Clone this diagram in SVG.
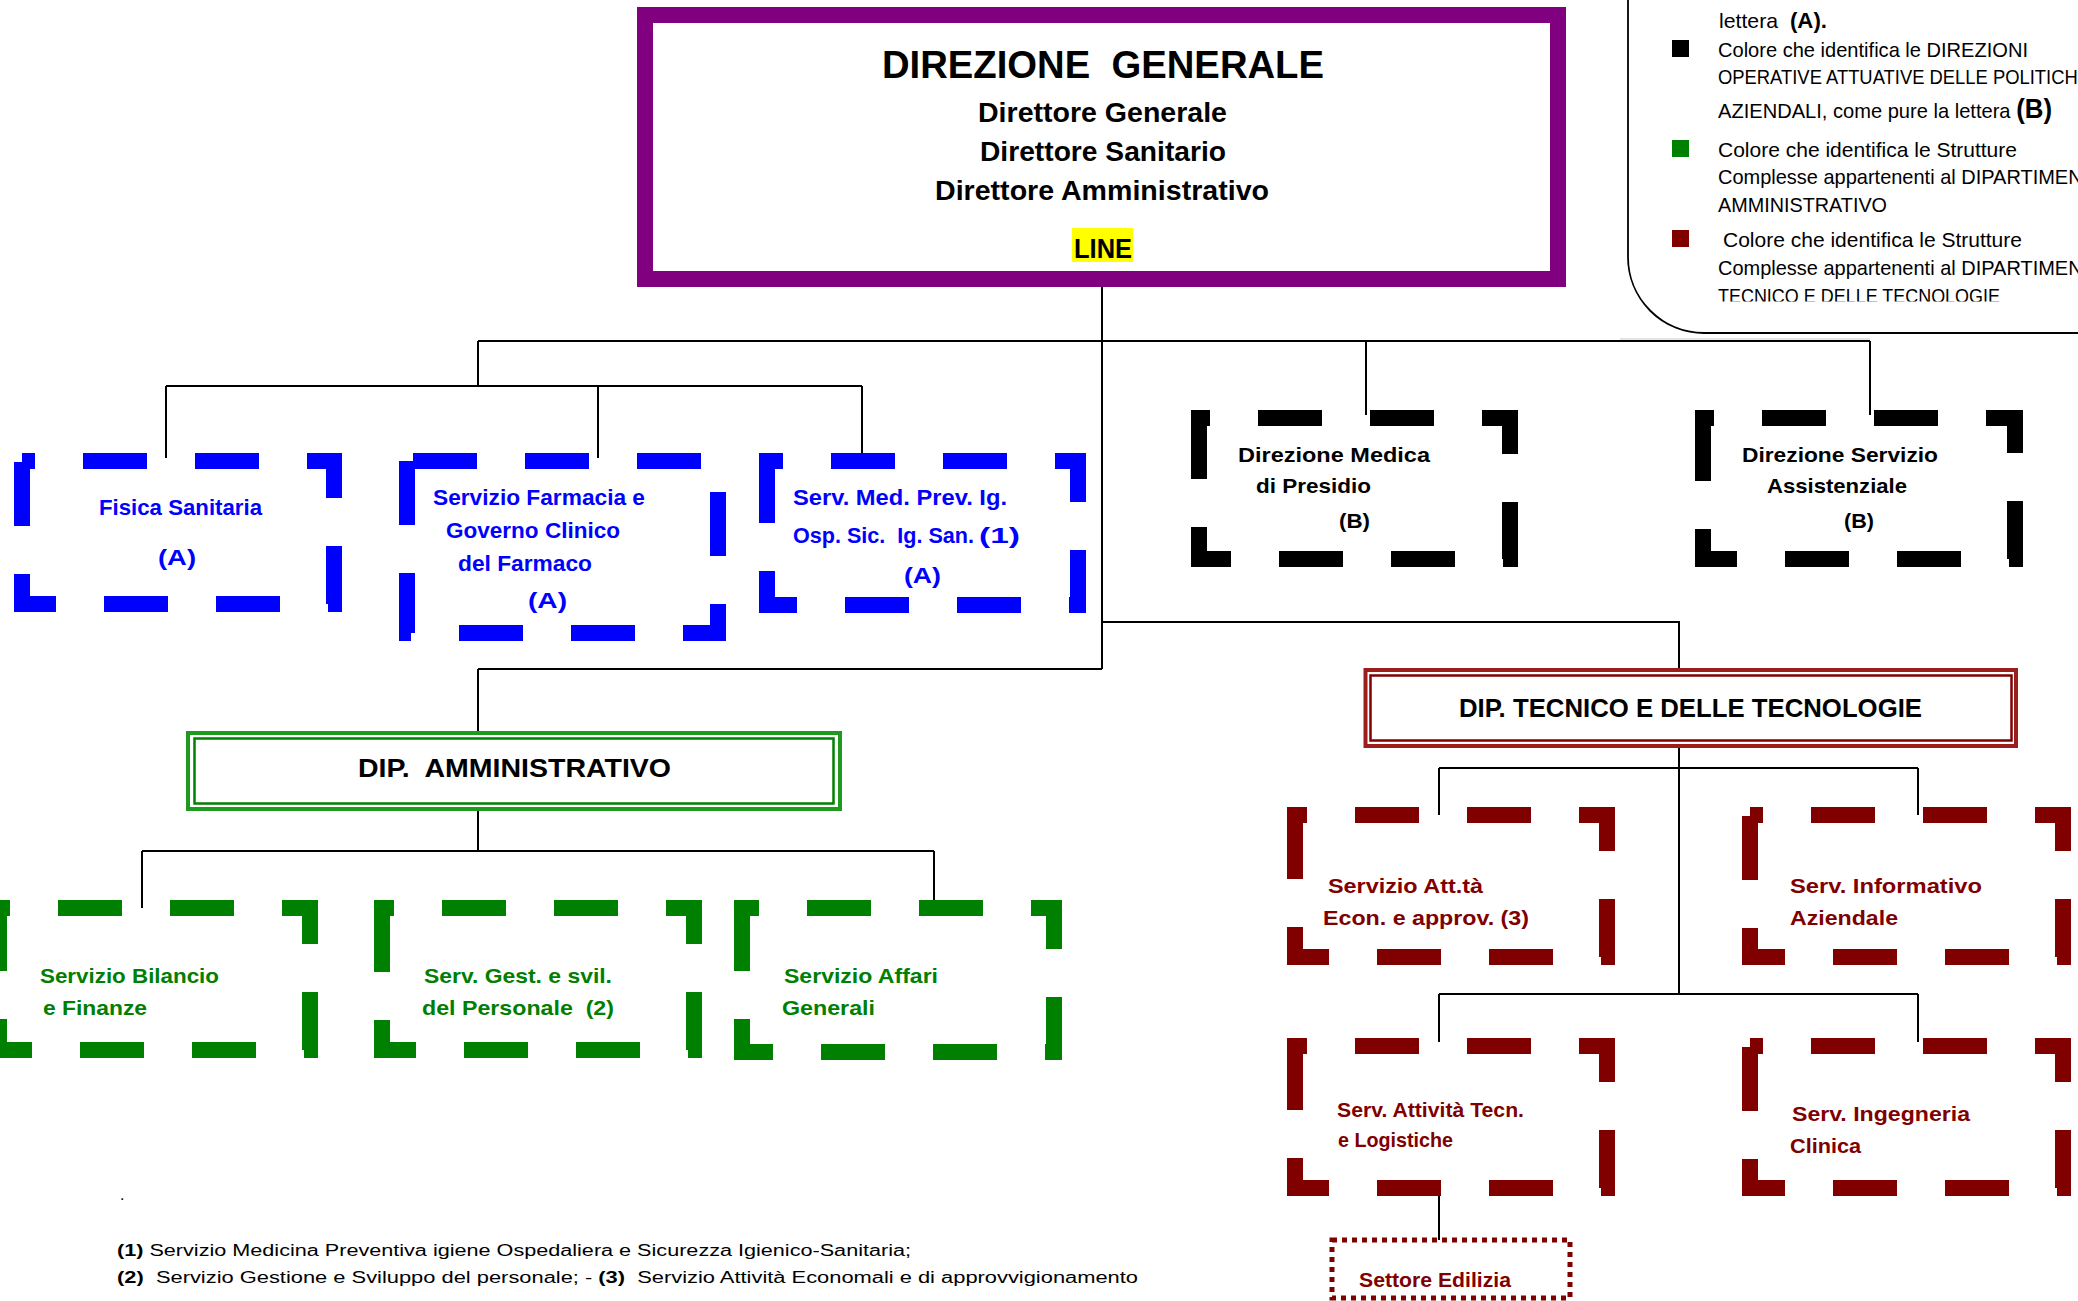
<svg xmlns="http://www.w3.org/2000/svg" width="2078" height="1301" viewBox="0 0 2078 1301">
<defs>
<style>
text{font-family:"Liberation Sans",Arial,sans-serif;}
.b{font-weight:bold;}
.dash{fill:#fff;stroke-width:16;stroke-dasharray:64 48;stroke-linecap:butt;stroke-linejoin:miter;}
.blue{stroke:#0000ff;}
.blk{stroke:#000;}
.grn{stroke:#008000;}
.red{stroke:#800000;}
.tb{fill:#0000ff;font-weight:bold;font-size:22px;}
.tk{fill:#000;font-weight:bold;font-size:21px;}
.tg{fill:#008000;font-weight:bold;font-size:21px;}
.tr{fill:#800000;font-weight:bold;font-size:21px;}
.leg{fill:#000;font-size:21px;}
.foot{fill:#000;font-size:16px;}
.conn{fill:none;stroke:#000;stroke-width:2;}
</style>
<clipPath id="legclip"><rect x="1600" y="0" width="478" height="301.5"/></clipPath>
</defs>
<rect x="0" y="0" width="2078" height="1301" fill="#fff"/>

<g id="legend">
<rect x="1628" y="-120" width="600" height="453" rx="76" ry="76" fill="#fff" stroke="#000" stroke-width="1.8"/>
<line x1="1620" y1="339" x2="1870" y2="339" stroke="#e4e4e4" stroke-width="2"/>
<rect x="1672" y="40" width="17" height="17" fill="#000"/>
<rect x="1672" y="140" width="17" height="17" fill="#008000"/>
<rect x="1672" y="230" width="17" height="17" fill="#800000"/>
<g clip-path="url(#legclip)">
<text class="leg" x="1719" y="28" textLength="108" lengthAdjust="spacingAndGlyphs" xml:space="preserve">lettera  <tspan class="b" font-size="22">(A).</tspan></text>
<text class="leg" x="1718" y="57" textLength="310" lengthAdjust="spacingAndGlyphs">Colore che identifica le DIREZIONI</text>
<text class="leg" x="1718" y="84" textLength="372" lengthAdjust="spacingAndGlyphs">OPERATIVE ATTUATIVE DELLE POLITICHE</text>
<text class="leg" x="1718" y="118" textLength="334" lengthAdjust="spacingAndGlyphs" xml:space="preserve">AZIENDALI, come pure la lettera <tspan class="b" font-size="27">(B)</tspan></text>
<text class="leg" x="1718" y="157" textLength="299" lengthAdjust="spacingAndGlyphs">Colore che identifica le Strutture</text>
<text class="leg" x="1718" y="184" textLength="392" lengthAdjust="spacingAndGlyphs">Complesse appartenenti al DIPARTIMENTO</text>
<text class="leg" x="1718" y="212" textLength="169" lengthAdjust="spacingAndGlyphs">AMMINISTRATIVO</text>
<text class="leg" x="1723" y="247" textLength="299" lengthAdjust="spacingAndGlyphs">Colore che identifica le Strutture</text>
<text class="leg" x="1718" y="275" textLength="392" lengthAdjust="spacingAndGlyphs">Complesse appartenenti al DIPARTIMENTO</text>
<text class="leg" x="1718" y="303" textLength="282" lengthAdjust="spacingAndGlyphs">TECNICO E DELLE TECNOLOGIE</text>
</g>
</g>

<g id="connectors">
<path class="conn" d="M1102 279 V669"/>
<path class="conn" d="M478 341 H1870"/>
<path class="conn" d="M478 341 V386"/>
<path class="conn" d="M166 386 H862"/>
<path class="conn" d="M166 386 V458 M598 386 V458 M862 386 V458"/>
<path class="conn" d="M1366 341 V415 M1870 341 V415"/>
<path class="conn" d="M1102 622 H1679 V670"/>
<path class="conn" d="M478 669 H1102 M478 669 V733"/>
<path class="conn" d="M478 803 V851 M142 851 H934 M142 851 V908 M934 851 V908"/>
<path class="conn" d="M1679 746 V994 M1439 768 H1918 M1439 768 V815 M1918 768 V815"/>
<path class="conn" d="M1439 994 H1918 M1439 994 V1042 M1918 994 V1042"/>
<path class="conn" d="M1439 1196 V1240"/>
</g>

<g id="direzione-generale">
<rect x="645" y="15" width="913" height="264" fill="none" stroke="#800080" stroke-width="16"/>
<text class="b" x="882" y="78" font-size="39" textLength="442" lengthAdjust="spacingAndGlyphs" xml:space="preserve">DIREZIONE  GENERALE</text>
<text class="b" x="978" y="122" font-size="28" textLength="249" lengthAdjust="spacingAndGlyphs">Direttore Generale</text>
<text class="b" x="980" y="161" font-size="28" textLength="246" lengthAdjust="spacingAndGlyphs">Direttore Sanitario</text>
<text class="b" x="935" y="200" font-size="28" textLength="334" lengthAdjust="spacingAndGlyphs">Direttore Amministrativo</text>
<rect x="1072" y="228" width="61" height="34" fill="#ffff00"/>
<text class="b" x="1074" y="258" font-size="28" textLength="58" lengthAdjust="spacingAndGlyphs">LINE</text>
</g>

<g id="fisica-sanitaria">
<rect class="dash blue" x="22" y="461" width="312" height="143" stroke-dashoffset="51"/>
<text class="tb" x="99" y="515" textLength="163" lengthAdjust="spacingAndGlyphs">Fisica Sanitaria</text>
<text class="tb" x="158" y="565" font-size="29" textLength="38" lengthAdjust="spacingAndGlyphs">(A)</text>
</g>

<g id="servizio-farmacia">
<rect class="dash blue" x="407" y="461" width="311" height="172" stroke-dashoffset="106"/>
<text class="tb" x="433" y="505" textLength="212" lengthAdjust="spacingAndGlyphs">Servizio Farmacia e</text>
<text class="tb" x="446" y="538" textLength="174" lengthAdjust="spacingAndGlyphs">Governo Clinico</text>
<text class="tb" x="458" y="571" textLength="134" lengthAdjust="spacingAndGlyphs">del Farmaco</text>
<text class="tb" x="528" y="608" font-size="29" textLength="39" lengthAdjust="spacingAndGlyphs">(A)</text>
</g>

<g id="serv-med-prev">
<rect class="dash blue" x="767" y="461" width="311" height="144" stroke-dashoffset="48"/>
<text class="tb" x="793" y="505" textLength="214" lengthAdjust="spacingAndGlyphs">Serv. Med. Prev. Ig.</text>
<text class="tb" x="793" y="543" textLength="181" lengthAdjust="spacingAndGlyphs" xml:space="preserve">Osp. Sic.  Ig. San.</text>
<text class="tb" x="979" y="543" font-size="29" textLength="41" lengthAdjust="spacingAndGlyphs">(1)</text>
<text class="tb" x="904" y="583" font-size="29" textLength="37" lengthAdjust="spacingAndGlyphs">(A)</text>
</g>

<g id="direzione-medica">
<rect class="dash blk" x="1199" y="418" width="311" height="141" stroke-dashoffset="53"/>
<text class="tk" x="1238" y="462" textLength="192" lengthAdjust="spacingAndGlyphs">Direzione Medica</text>
<text class="tk" x="1256" y="493" textLength="115" lengthAdjust="spacingAndGlyphs">di Presidio</text>
<text class="tk" x="1339" y="528" font-size="22" textLength="31" lengthAdjust="spacingAndGlyphs">(B)</text>
</g>

<g id="direzione-servizio-assistenziale">
<rect class="dash blk" x="1703" y="418" width="312" height="141" stroke-dashoffset="53"/>
<text class="tk" x="1742" y="462" textLength="196" lengthAdjust="spacingAndGlyphs">Direzione Servizio</text>
<text class="tk" x="1767" y="493" textLength="140" lengthAdjust="spacingAndGlyphs">Assistenziale</text>
<text class="tk" x="1844" y="528" font-size="22" textLength="30" lengthAdjust="spacingAndGlyphs">(B)</text>
</g>

<g id="dip-amministrativo">
<rect x="188" y="733" width="652" height="76" fill="#fff" stroke="#1e9a1e" stroke-width="4"/>
<rect x="194.5" y="738.5" width="639" height="65" fill="none" stroke="#008000" stroke-width="2.5"/>
<text class="b" x="358" y="777" font-size="26" textLength="313" lengthAdjust="spacingAndGlyphs" xml:space="preserve">DIP.  AMMINISTRATIVO</text>
</g>

<g id="servizio-bilancio">
<rect class="dash grn" x="-1" y="908" width="311" height="142" stroke-dashoffset="53"/>
<text class="tg" x="40" y="983" textLength="179" lengthAdjust="spacingAndGlyphs">Servizio Bilancio</text>
<text class="tg" x="43" y="1015" textLength="104" lengthAdjust="spacingAndGlyphs">e Finanze</text>
</g>

<g id="serv-gest-personale">
<rect class="dash grn" x="382" y="908" width="312" height="142" stroke-dashoffset="52"/>
<text class="tg" x="424" y="983" textLength="188" lengthAdjust="spacingAndGlyphs">Serv. Gest. e svil.</text>
<text class="tg" x="422" y="1015" textLength="192" lengthAdjust="spacingAndGlyphs" xml:space="preserve">del Personale  (2)</text>
</g>

<g id="servizio-affari-generali">
<rect class="dash grn" x="742" y="908" width="312" height="144" stroke-dashoffset="47"/>
<text class="tg" x="784" y="983" textLength="154" lengthAdjust="spacingAndGlyphs">Servizio Affari</text>
<text class="tg" x="782" y="1015" textLength="93" lengthAdjust="spacingAndGlyphs">Generali</text>
</g>

<g id="dip-tecnico">
<rect x="1365.5" y="670" width="650.5" height="76" fill="#fff" stroke="#9a1e1e" stroke-width="4"/>
<rect x="1370.5" y="675.5" width="641" height="65" fill="none" stroke="#800000" stroke-width="2.5"/>
<text class="b" x="1459" y="717" font-size="26" textLength="463" lengthAdjust="spacingAndGlyphs">DIP. TECNICO E DELLE TECNOLOGIE</text>
</g>

<g id="servizio-att-econ">
<rect class="dash red" x="1295" y="815" width="312" height="142" stroke-dashoffset="52"/>
<text class="tr" x="1328" y="893" textLength="155" lengthAdjust="spacingAndGlyphs">Servizio Att.tà</text>
<text class="tr" x="1323" y="925" textLength="206" lengthAdjust="spacingAndGlyphs">Econ. e approv. (3)</text>
</g>

<g id="serv-informativo">
<rect class="dash red" x="1750" y="815" width="313" height="142" stroke-dashoffset="51"/>
<text class="tr" x="1790" y="893" textLength="192" lengthAdjust="spacingAndGlyphs">Serv. Informativo</text>
<text class="tr" x="1790" y="925" textLength="108" lengthAdjust="spacingAndGlyphs">Aziendale</text>
</g>

<g id="serv-attivita-tecn">
<rect class="dash red" x="1295" y="1046" width="312" height="142" stroke-dashoffset="52"/>
<text class="tr" x="1337" y="1117" font-size="20" textLength="187" lengthAdjust="spacingAndGlyphs">Serv. Attività Tecn.</text>
<text class="tr" x="1338" y="1147" font-size="20" textLength="115" lengthAdjust="spacingAndGlyphs">e Logistiche</text>
</g>

<g id="serv-ingegneria">
<rect class="dash red" x="1750" y="1046" width="313" height="142" stroke-dashoffset="51"/>
<text class="tr" x="1792" y="1121" textLength="178" lengthAdjust="spacingAndGlyphs">Serv. Ingegneria</text>
<text class="tr" x="1790" y="1153" textLength="71" lengthAdjust="spacingAndGlyphs">Clinica</text>
</g>

<g id="settore-edilizia">
<rect x="1332" y="1240" width="238" height="58" fill="#fff" stroke="#800000" stroke-width="5" stroke-dasharray="5 5"/>
<text class="tr" x="1359" y="1287" font-size="20" textLength="152" lengthAdjust="spacingAndGlyphs">Settore Edilizia</text>
</g>

<g id="footnotes">
<text class="foot" x="120" y="1200">.</text>
<text class="foot" x="117" y="1256" textLength="794" lengthAdjust="spacingAndGlyphs"><tspan class="b">(1)</tspan> Servizio Medicina Preventiva igiene Ospedaliera e Sicurezza Igienico-Sanitaria;</text>
<text class="foot" x="117" y="1283" textLength="1021" lengthAdjust="spacingAndGlyphs" xml:space="preserve"><tspan class="b">(2)</tspan>  Servizio Gestione e Sviluppo del personale; - <tspan class="b">(3)</tspan>  Servizio Attività Economali e di approvvigionamento</text>
</g>
</svg>
